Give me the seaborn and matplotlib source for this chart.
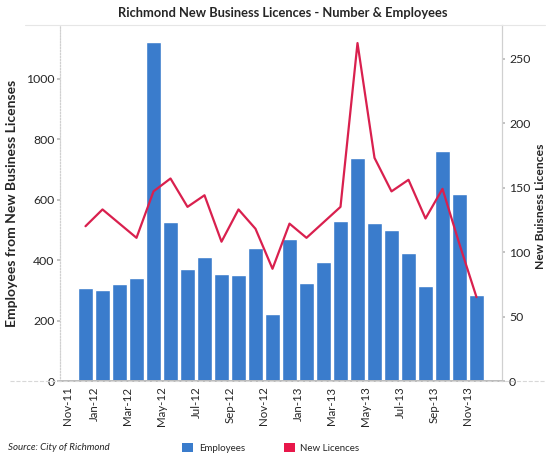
import numpy as np
import pandas as pd
import matplotlib
matplotlib.use("Agg")
import matplotlib.pyplot as plt
from matplotlib.patches import Patch
from matplotlib.lines import Line2D
import seaborn as sns

# Monthly data, Dec 2011 - Nov 2013
months = ["Dec-11", "Jan-12", "Feb-12", "Mar-12", "Apr-12", "May-12", "Jun-12", "Jul-12",
          "Aug-12", "Sep-12", "Oct-12", "Nov-12", "Dec-12", "Jan-13", "Feb-13", "Mar-13",
          "Apr-13", "May-13", "Jun-13", "Jul-13", "Aug-13", "Sep-13", "Oct-13", "Nov-13"]
employees = [306, 301, 321, 339, 1120, 527, 370, 411, 353, 350, 439, 221,
             468, 325, 394, 530, 736, 521, 499, 424, 315, 760, 617, 284]
new_licences = [120, 133, 122, 111, 147, 157, 135, 144, 108, 133, 118, 87,
                122, 111, 123, 135, 262, 173, 147, 156, 126, 149, 106, 65]
tick_labels = ["Nov-11", "Jan-12", "Mar-12", "May-12", "Jul-12", "Sep-12", "Nov-12",
               "Jan-13", "Mar-13", "May-13", "Jul-13", "Sep-13", "Nov-13"]

BLUE = "#3a7ccc"
RED = "#d9204e"
FONT = ["Lato", "DejaVu Sans"]

sns.set_theme(style="white")
plt.rcParams["font.family"] = FONT

df = pd.DataFrame({"month": months, "employees": employees, "licences": new_licences})
df["pos"] = np.arange(len(df))

fig = plt.figure(figsize=(5.5, 4.59), dpi=100)
ax = fig.add_axes([60 / 550, 1 - 381 / 459, 442 / 550, 356 / 459])

sns.barplot(data=df, x="month", y="employees", order=months, color=BLUE,
            width=0.83, saturation=1, ax=ax)

ax2 = ax.twinx()
sns.lineplot(x=df["pos"], y=df["licences"], color=RED, linewidth=1.6, ax=ax2)

ax.set_xlim(-1.5, 24.5)
ax.set_ylim(0, 1177)
ax2.set_ylim(0, 276)

# month ticks fall on the start of every second month; the first one is nudged
# inward so it stays clear of the axis edge
tick_pos = np.arange(len(tick_labels)) * 2 - 1.5
tick_pos[0] = -1.05
ax.set_xticks(tick_pos)
ax.set_xticklabels(tick_labels, rotation=90, fontsize=8.3)

ax.set_yticks([0, 200, 400, 600, 800, 1000])
ax.set_yticklabels(["0", "200", "400", "600", "800", "1000"], fontsize=8.8)
ax2.set_yticks([0, 50, 100, 150, 200, 250])
ax2.set_yticklabels(["0", "50", "100", "150", "200", "250"], fontsize=8.8)

ax.tick_params(axis="x", length=2, color="#999999", pad=2)
ax.tick_params(axis="y", length=2, color="#bbbbbb", pad=2)
ax2.tick_params(axis="y", length=2, color="#bbbbbb", pad=3)

ax.set_xlabel("")
ax.set_ylabel("Employees from New Business Licenses", fontsize=10, fontweight="bold", labelpad=6)
ax2.set_ylabel("")
fig.text(541 / 550, 1 - 206 / 459, "New Buisness Licences", rotation=90, ha="center",
         va="center", fontsize=8.7, fontweight="bold")

for a in (ax, ax2):
    a.spines["top"].set_visible(False)
    a.spines["left"].set_color("#d0d0d0")
    a.spines["left"].set_linestyle(":")
    a.spines["right"].set_color("#d0d0d0")
    a.spines["bottom"].set_color("#bbbbbb")
    a.spines["left"].set_linewidth(0.8)
    a.spines["right"].set_linewidth(0.8)

fig.add_artist(Line2D([25 / 550, 545 / 550], [1 - 25 / 459] * 2, color="#e6e6e6", lw=0.8))
fig.add_artist(Line2D([10 / 550, 545 / 550], [1 - 381 / 459] * 2, color="#d8d8d8", lw=0.8, ls="--"))

fig.text(283 / 550, 1 - 13 / 459, "Richmond New Business Licences - Number & Employees",
         ha="center", va="center", fontsize=9.3, fontweight="bold")
fig.text(8 / 550, 1 - 448 / 459, "Source: City of Richmond", ha="left", va="center",
         fontsize=7, style="italic")

handles = [Patch(facecolor=BLUE, edgecolor="none"), Patch(facecolor="#e8174a", edgecolor="none")]
fig.legend(handles, ["Employees", "New Licences"], loc="center", ncol=2, frameon=False,
           bbox_to_anchor=(271 / 550, 1 - 448 / 459), fontsize=7, handlelength=1.1,
           handleheight=1.1, columnspacing=4.0, handletextpad=0.6)

fig.savefig("out.png", dpi=100)
